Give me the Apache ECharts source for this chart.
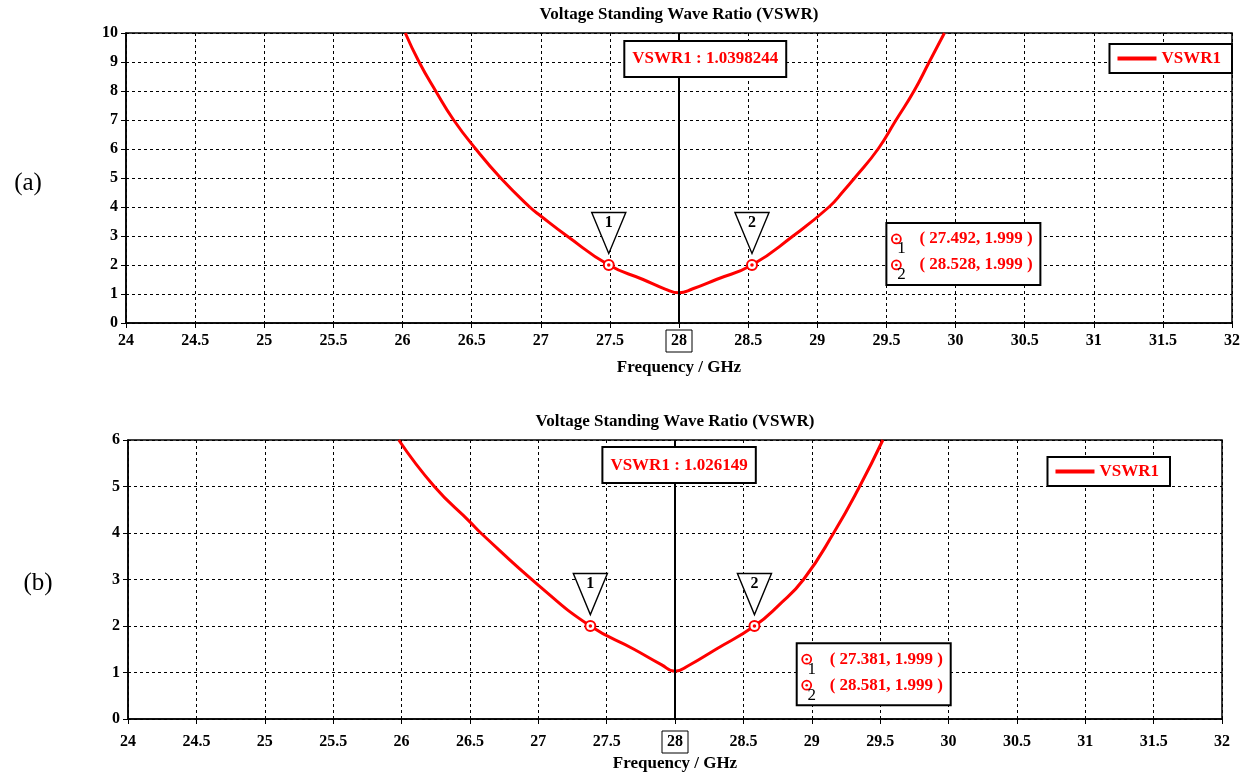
<!DOCTYPE html>
<html><head><meta charset="utf-8">
<script src="https://cdn.jsdelivr.net/npm/echarts@6/dist/echarts.min.js"></script>
<style>html,body{margin:0;padding:0;background:#fff}#c{width:1251px;height:773px}</style>
</head><body><div id="c"></div>
<script>
// ---------- data ----------
const chartTitle = 'Voltage Standing Wave Ratio (VSWR)';
const xAxisName = 'Frequency / GHz';
const seriesName = 'VSWR1';
const panelLabels = ['(a)', '(b)'];
const xMin = 24, xMax = 32, xStep = 0.5;
const yMaxA = 10, yMaxB = 6, yStep = 1;

const freqA = [26.02, 26.12, 26.24, 26.37, 26.53, 26.71, 26.92, 27.0, 27.19, 27.492, 27.74, 27.9, 28.0, 28.1, 28.27, 28.528, 28.825, 29.085, 29.19, 29.27, 29.44, 29.57, 29.70, 29.81, 29.92];
const vswrA = [10, 9, 8, 7, 6, 5, 4, 3.69, 3.0, 1.999, 1.5, 1.17, 1.04, 1.18, 1.5, 1.999, 3.0, 4.0, 4.55, 5, 6, 7, 8, 9, 10];

const freqB = [25.98, 26.24, 26.5, 26.58, 27.0, 27.381, 27.7, 27.9, 28.0, 28.1, 28.3, 28.581, 28.76, 28.94, 29.16, 29.35, 29.52];
const vswrB = [6, 5, 4.24, 4, 2.88, 1.999, 1.5, 1.17, 1.026, 1.15, 1.5, 1.999, 2.45, 3, 4, 5, 6];

const markerFreqA = [27.492, 28.528];
const markerVswrA = [1.999, 1.999];
const markerFreqB = [27.381, 28.581];
const markerVswrB = [1.999, 1.999];
const markerIds = ['1', '2'];

const centerFreq = 28;
const minVswrTextA = '1.0398244';
const minVswrTextB = '1.026149';

// ---------- styling / layout ----------
const FONT = 'Liberation Serif';
const RED = '#ff0000';
const grids = [
  {left: 126, top: 33, width: 1106, height: 290},
  {left: 128, top: 440, width: 1094, height: 279}
];
const titleY = [15, 422];
const panelPos = [[28, 183], [38, 583]];
const minBoxAnchor = [[28.19, 9.1], [28.03, 5.46]];   // data coords of box centre
const readoutAnchor = [[29.5, 3.45], [28.89, 1.63]];  // data coords of box top-left

function xAxisCfg(i) {
  const lab = {fontFamily: FONT, fontWeight: 'bold', fontSize: 16, color: '#000'};
  return {
    type: 'value', gridIndex: i, min: xMin, max: xMax, interval: xStep,
    name: xAxisName, nameLocation: 'middle', nameGap: 36, nameMoveOverlap: false,
    nameTextStyle: {fontFamily: FONT, fontWeight: 'bold', fontSize: 17, color: '#000'},
    axisLine: {show: true, onZero: false, lineStyle: {color: '#000', width: 1.5}},
    axisTick: {show: true, length: 5, lineStyle: {color: '#000'}},
    axisLabel: Object.assign({}, lab, {
      margin: i === 0 ? 7 : 12,
      formatter: v => (v === centerFreq ? '{b|' : '{n|') + v + '}',
      rich: {
        b: Object.assign({borderColor: '#000', borderWidth: 1, padding: [3, 5, 3, 5]}, lab),
        n: Object.assign({padding: [3, 0, 3, 0]}, lab)
      }
    }),
    splitLine: {show: true, lineStyle: {color: '#000', width: 1, type: [3, 3]}}
  };
}
function yAxisCfg(i, max) {
  return {
    type: 'value', gridIndex: i, min: 0, max: max, interval: yStep,
    axisLine: {show: true, lineStyle: {color: '#000', width: 1.5}},
    axisTick: {show: true, length: 5, lineStyle: {color: '#000'}},
    axisLabel: {fontFamily: FONT, fontWeight: 'bold', fontSize: 16, color: '#000', margin: 8},
    splitLine: {show: true, lineStyle: {color: '#000', width: 1, type: [3, 3]}}
  };
}
function curveSeries(i, freqs, vals) {
  return {
    name: seriesName, type: 'line', xAxisIndex: i, yAxisIndex: i,
    data: freqs.map((f, k) => [f, vals[k]]),
    smooth: 0.5, showSymbol: false, symbol: 'none', color: RED,
    lineStyle: {color: RED, width: 3}, z: 3,
    markLine: {
      silent: true, symbol: ['none', 'none'], label: {show: false},
      lineStyle: {color: '#000', width: 2, type: 'solid'},
      data: [{xAxis: centerFreq}], animation: false
    }
  };
}
function markerSeries(i, freqs, vals) {
  const pts = freqs.map((f, k) => ({value: [f, vals[k]], label: {formatter: markerIds[k]}}));
  return [
    {
      name: 'tri' + i, type: 'scatter', xAxisIndex: i, yAxisIndex: i, data: pts,
      symbol: 'path://M0,0 L34,0 L17,41 Z', symbolSize: [34, 41], symbolOffset: [0, -32],
      itemStyle: {color: '#fff', borderColor: '#000', borderWidth: 1.5, opacity: 1}, z: 4, silent: true,
      label: {show: true, position: 'inside', offset: [0, -10], color: '#000', fontFamily: FONT, fontWeight: 'bold', fontSize: 16}
    },
    {
      name: 'ring' + i, type: 'scatter', xAxisIndex: i, yAxisIndex: i,
      data: freqs.map((f, k) => [f, vals[k]]), symbol: 'circle', symbolSize: 10,
      itemStyle: {color: '#fff', borderColor: RED, borderWidth: 2, opacity: 1}, z: 5, silent: true
    },
    {
      name: 'dot' + i, type: 'scatter', xAxisIndex: i, yAxisIndex: i,
      data: freqs.map((f, k) => [f, vals[k]]), symbol: 'circle', symbolSize: 3.5,
      itemStyle: {color: RED, opacity: 1}, z: 6, silent: true
    }
  ];
}
function legendCfg(right, top) {
  return {
    data: [{name: seriesName, icon: 'rect'}], right: right, top: top, orient: 'horizontal',
    itemWidth: 39, itemHeight: 4, padding: [6, 11, 6, 8], selectedMode: false,
    borderColor: '#000', borderWidth: 2, backgroundColor: '#fff',
    textStyle: {color: RED, fontFamily: FONT, fontWeight: 'bold', fontSize: 17}
  };
}

const chart = echarts.init(document.getElementById('c'), null, {renderer: 'canvas'});
chart.setOption({
  animation: false,
  backgroundColor: '#fff',
  grid: grids.map(g => Object.assign({show: true, borderColor: '#000', borderWidth: 1.5, backgroundColor: 'transparent', containLabel: false, outerBoundsMode: 'none'}, g)),
  xAxis: [xAxisCfg(0), xAxisCfg(1)],
  yAxis: [yAxisCfg(0, yMaxA), yAxisCfg(1, yMaxB)],
  legend: [legendCfg(19, 44), legendCfg(81, 457)],
  series: [
    curveSeries(0, freqA, vswrA),
    curveSeries(1, freqB, vswrB),
    ...markerSeries(0, markerFreqA, markerVswrA),
    ...markerSeries(1, markerFreqB, markerVswrB)
  ]
});

// ---------- annotations placed through the axes' scales ----------
const graphics = [];
[0, 1].forEach(i => {
  const g = grids[i];
  graphics.push({type: 'text', x: g.left + g.width / 2, y: titleY[i], z: 10,
    style: {text: chartTitle, fill: '#000', font: 'bold 17px "' + FONT + '"', align: 'center', verticalAlign: 'middle'}});
  graphics.push({type: 'text', x: panelPos[i][0], y: panelPos[i][1], z: 10,
    style: {text: panelLabels[i], fill: '#000', font: '25px "' + FONT + '"', align: 'center', verticalAlign: 'middle'}});
  const c = chart.convertToPixel({gridIndex: i}, minBoxAnchor[i]);
  graphics.push({type: 'text', x: c[0], y: c[1], z: 10,
    style: {text: seriesName + ' : ' + (i === 0 ? minVswrTextA : minVswrTextB), fill: RED,
      font: 'bold 17px "' + FONT + '"', align: 'center', verticalAlign: 'middle',
      backgroundColor: '#fff', borderColor: '#000', borderWidth: 2, padding: [9, 7, 8, 7]}});
  const p = chart.convertToPixel({gridIndex: i}, readoutAnchor[i]);
  const freqs = i === 0 ? markerFreqA : markerFreqB;
  const vals = i === 0 ? markerVswrA : markerVswrB;
  graphics.push({type: 'rect', z: 10, shape: {x: p[0], y: p[1], width: 154, height: 62},
    style: {fill: '#fff', stroke: '#000', lineWidth: 2}});
  freqs.forEach((f, k) => {
    const ry = p[1] + 16 + k * 26;
    graphics.push({type: 'circle', z: 11, shape: {cx: p[0] + 10, cy: ry, r: 4.5}, style: {fill: '#fff', stroke: RED, lineWidth: 1.8}});
    graphics.push({type: 'circle', z: 12, shape: {cx: p[0] + 10, cy: ry, r: 1.3}, style: {fill: RED}});
    graphics.push({type: 'text', z: 12, x: p[0] + 15, y: ry + 10,
      style: {text: markerIds[k], fill: '#000', font: '17px "' + FONT + '"', align: 'center', verticalAlign: 'middle'}});
    graphics.push({type: 'text', z: 12, x: p[0] + 33, y: ry,
      style: {text: '( ' + f.toFixed(3) + ', ' + vals[k].toFixed(3) + ' )', fill: RED,
        font: 'bold 17px "' + FONT + '"', align: 'left', verticalAlign: 'middle'}});
  });
});
chart.setOption({graphic: graphics});
</script>
</body></html>
